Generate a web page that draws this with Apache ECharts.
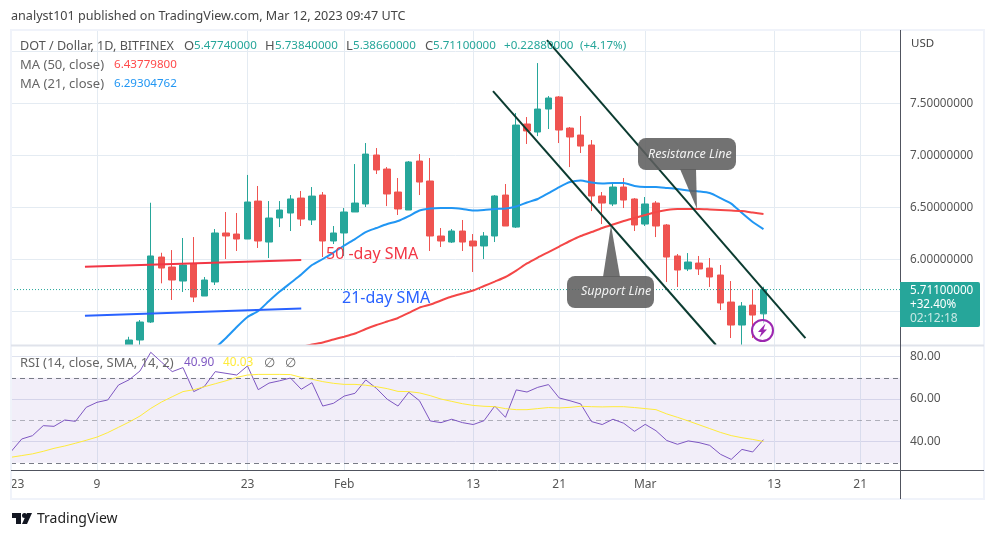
<!DOCTYPE html>
<html><head><meta charset="utf-8"><style>html,body{margin:0;padding:0;background:#fff}#c{width:996px;height:538px}</style>
<script src="https://cdn.jsdelivr.net/npm/echarts@6/dist/echarts.min.js"></script></head><body><div id="c"></div>
<script>
// x values are days counted from Jan 1 2023
const candleStartDay = 11;
const opens  = [5.178,5.226,5.399,6.024,5.928,5.793,5.957,5.649,5.784,6.255,6.245,6.197,6.562,6.168,6.399,6.447,6.591,6.38,6.62,6.178,6.255,6.457,6.534,7.005,6.87,6.649,6.476,6.947,6.755,6.226,6.168,6.274,6.178,6.13,6.226,6.62,6.312,7.303,7.226,7.447,7.563,7.264,7.197,7.101,6.611,6.534,6.697,6.582,6.341,6.543,6.332,6.034,5.909,5.966,5.918,5.851,5.591,5.37,5.562,5.4774];
const closes = [5.226,5.399,6.034,5.918,5.803,5.947,5.639,5.803,6.255,6.226,6.197,6.553,6.178,6.399,6.476,6.582,6.389,6.61,6.178,6.255,6.457,6.543,7.014,6.861,6.63,6.486,6.938,6.745,6.226,6.178,6.274,6.168,6.13,6.226,6.611,6.322,7.293,7.236,7.447,7.553,7.245,7.178,7.091,6.611,6.543,6.697,6.572,6.332,6.534,6.322,6.024,5.899,5.976,5.909,5.832,5.582,5.37,5.553,5.466,5.711];
const lows   = [5.178,5.178,5.39,5.771,5.611,5.688,5.591,5.649,5.755,6.005,6.082,6.197,6.111,6.014,6.312,6.274,6.322,6.332,6.024,6.149,6.034,6.457,6.505,6.822,6.514,6.428,6.476,6.62,6.082,6.12,6.159,6.082,5.88,6.005,6.168,6.322,6.303,7.111,7.187,7.255,7.12,6.889,7.024,6.466,6.341,6.514,6.495,6.274,6.322,6.216,5.784,5.736,5.889,5.851,5.736,5.514,5.245,5.178,5.245,5.3866];
const highs  = [5.257,5.418,6.546,6.065,6.091,6.207,6.216,5.832,6.293,6.457,6.447,6.813,6.707,6.562,6.562,6.62,6.659,6.697,6.649,6.322,6.495,6.918,7.12,7.072,6.889,6.784,6.947,7.014,6.976,6.303,6.293,6.38,6.245,6.264,6.62,6.726,7.409,7.37,7.889,7.572,7.572,7.274,7.38,7.149,6.649,6.726,6.784,6.591,6.601,6.562,6.341,6.053,6.062,6.034,6.014,5.947,5.793,5.591,5.707,5.7384];

const ma21StartDay = 19;
const ma21 = [5.149,5.245,5.351,5.447,5.505,5.601,5.692,5.774,5.856,5.947,6.005,6.067,6.135,6.197,6.264,6.303,6.341,6.37,6.418,6.471,6.49,6.495,6.495,6.486,6.471,6.476,6.486,6.49,6.51,6.548,6.582,6.639,6.697,6.745,6.76,6.74,6.731,6.736,6.736,6.707,6.697,6.697,6.688,6.678,6.663,6.654,6.639,6.591,6.538,6.447,6.361,6.293];
const ma50StartDay = 26;
const ma50 = [5.14,5.159,5.183,5.202,5.231,5.258,5.288,5.332,5.37,5.404,5.438,5.486,5.538,5.567,5.606,5.644,5.673,5.702,5.745,5.788,5.832,5.894,5.962,6.019,6.072,6.125,6.178,6.226,6.264,6.303,6.337,6.37,6.399,6.428,6.457,6.476,6.486,6.486,6.486,6.481,6.476,6.471,6.466,6.452,6.438];

const rsi = [35.24,41.2,42.77,47.48,47.16,50.14,49.5,56.1,58.46,59.55,66.6,69.1,73.2,82,77.4,72.9,74.8,63.5,66,72.9,72.1,71.3,75.6,64.4,67.5,68.6,69.9,64.6,67.7,56.7,58,61.4,62.7,69,65,59.9,56.7,63.2,59.2,49.7,48.9,50.5,48.9,48,49.8,56.7,51.4,64.3,63.3,65.5,66.8,60.5,59.2,57.7,49.4,48,50.5,48.6,44.8,48.1,45.1,40.5,38.7,40.3,39.5,38.2,34,31.6,36.3,35.1,40.9];
const rsiMa = [32.6,33.4,34.2,35.4,36.8,37.9,39.2,40.6,42.1,44.2,46.7,49.2,52,55.6,58.6,61.1,63.5,64.4,65.8,67.2,68.6,70.2,71.3,71.6,71.6,71.6,71.5,70.2,69.3,68.2,67.4,66.9,66.9,66.5,65.8,64.9,63.6,63.5,62.9,61.6,60,58.9,57.8,57,56.6,56.4,55.5,55,55,55.5,56,55.8,56.1,56.6,56.4,56.3,56.4,56.4,56,55.5,55,53,51.4,49.7,47.9,46.1,44.3,42.8,41.8,41,40.03];

const supportLine = [[44.84,7.62],[65.58,5.178]];
const resistanceLine = [[49.86,8.11],[73.9,5.245]];
const sma50Note = [[6.88,5.93],[27,5.995]];
const sma21Note = [[6.88,5.46],[27,5.53]];
const lastPriceLine = [[0,5.711],[82.7,5.711]];

const gridDays = [8,22,31,43,51,59,71,79];
const labelDays = [0.6,8,22,31,43,51,59,71,79];
const labelTexts = ['23','9','23','Feb','13','21','Mar','13','21'];
const priceTicks = [5.5,6,6.5,7,7.5,8];
const priceLabels = [6,6.5,7,7.5];
const rsiTicks = [40,60,80];

const withDays = (start, a) => a.map((v,i)=>[start+i,v]);
const FONT = '"Noto Sans"';
const GRID = '#e4ebf2';
const UP = '#26a69a', DOWN = '#ef5350';
const VAL = '11.6px '+FONT, LAB = '13px '+FONT;

const xAxisBase = {type:'value', min:0, max:82.7, axisLine:{show:false},
  axisTick:{show:false, customValues:gridDays},
  splitLine:{show:true, lineStyle:{color:GRID,width:1}}};

const txt = (x,y,text,fill,font) => ({type:'text',x,y,z:50,silent:true,
  style:{text,fill,font:font||LAB,textVerticalAlign:'middle'}});
const callout = (rx,ry,rw,rh,pts,label,lx,ly) => [
  {type:'polygon',z:40,silent:true,shape:{points:pts},style:{fill:'rgba(95,95,95,0.88)'}},
  {type:'rect',z:40,silent:true,shape:{x:rx,y:ry,width:rw,height:rh,r:8},style:{fill:'rgba(95,95,95,0.88)'}},
  {type:'text',x:lx,y:ly,z:52,silent:true,style:{text:label,fill:'#f2f2f2',font:'italic 12.5px '+FONT,textVerticalAlign:'middle'}}
];

const graphics = [
  // outer frame
  {type:'rect',z:30,silent:true,shape:{x:11,y:30,width:973,height:469},style:{fill:'none',stroke:'#f0f3fa',lineWidth:2}},
  {type:'line',z:31,silent:true,shape:{x1:11,y1:345.5,x2:984,y2:345.5},style:{stroke:'#e0e3eb',lineWidth:2}},
  {type:'line',z:32,silent:true,shape:{x1:900.5,y1:30,x2:900.5,y2:499},style:{stroke:'#50535e',lineWidth:1}},
  {type:'line',z:32,silent:true,shape:{x1:11,y1:470.5,x2:984,y2:470.5},style:{stroke:'#50535e',lineWidth:1}},
  // header and footer
  txt(11,16,'analyst101 published on TradingView.com, Mar 12, 2023 09:47 UTC','#444','12.6px '+FONT),
  txt(37,519.5,'TradingView','#222','14px '+FONT),
  {type:'polygon',z:50,silent:true,shape:{points:[[12,513],[21,513],[21,524],[16,524],[16,518],[12,518]]},style:{fill:'#131722'}},
  {type:'circle',z:50,silent:true,shape:{cx:24.5,cy:515.5,r:2.5},style:{fill:'#131722'}},
  {type:'polygon',z:50,silent:true,shape:{points:[[27,513],[32,513],[27,524],[22,524]]},style:{fill:'#131722'}},
  // legends
  txt(20,46,'DOT / Dollar, 1D, BITFINEX','#555','12.6px '+FONT),
  txt(184,46,'O','#555'), txt(194,46,'5.47740000',UP,VAL),
  txt(265,46,'H','#555'), txt(275,46,'5.73840000',UP,VAL),
  txt(346,46,'L','#555'), txt(353,46,'5.38660000',UP,VAL),
  txt(425,46,'C','#555'), txt(433,46,'5.71100000',UP,VAL),
  txt(504,46,'+0.22880000',UP,VAL), txt(580,46,'(+4.17%)',UP,VAL),
  txt(20,65,'MA (50, close)','#666'), txt(114,65,'6.43779800','#ff4a4a',VAL),
  txt(20,84,'MA (21, close)','#666'), txt(114,84,'6.29304762','#2196f3',VAL),
  txt(20,363,'RSI (14, close, SMA, 14, 2)','#666'), txt(184,363,'40.90','#7e57c2','11.8px '+FONT), txt(223,363,'40.03','#ffeb3b','11.8px '+FONT),
  txt(264,363,'∅','#666'), txt(285,363,'∅','#666'),
  txt(911,44,'USD','#444','11.5px '+FONT),
  // SMA notes
  txt(326,254,'50 -day SMA','#f23645','16px '+FONT),
  txt(342,298,'21-day SMA','#2962ff','16px '+FONT),
  // price tag
  {type:'rect',z:45,silent:true,shape:{x:900,y:282,width:80,height:45,r:[0,2,2,0]},style:{fill:UP}},
  txt(910,290.5,'5.71100000','#fff','11.7px '+FONT),
  txt(910,304.5,'+32.40%','#fff','11.7px '+FONT),
  txt(910,318.5,'02:12:18','#c9e9e5','12px '+FONT),
  // signal badge
  {type:'circle',z:46,silent:true,shape:{cx:762.5,cy:330.5,r:10.5},style:{fill:'rgba(255,255,255,0.6)',stroke:'#9c27b0',lineWidth:2}},
  {type:'polygon',z:47,silent:true,shape:{points:[[765.5,323.5],[758,332],[761.5,332],[759.5,337.5],[767,329.5],[763.5,329.5]]},style:{fill:'#9c27b0'}}
].concat(
  callout(638,138,98,32,[[680,169],[697,209],[696,169]],'Resistance Line',648,154.5),
  callout(567,276,87,32,[[603,277],[611,225],[620,277]],'Support Line',581,291)
);

const noteLine = (data,color,width) => ({type:'line',xAxisIndex:0,yAxisIndex:0,data,symbol:'none',silent:true,z:6,
  lineStyle:{color,width},animation:false});

const option = {
  animation:false, backgroundColor:'#fff',
  textStyle:{fontFamily:FONT},
  grid:[
    {left:11,right:96,top:30,height:315,containLabel:false},
    {left:11,right:96,top:346,height:124,containLabel:false}
  ],
  xAxis:[
    Object.assign({},xAxisBase,{gridIndex:0,axisLabel:{show:false}}),
    Object.assign({},xAxisBase,{gridIndex:1,axisLabel:{show:true,customValues:labelDays,color:'#555',fontSize:12,fontFamily:FONT,margin:9,hideOverlap:false,
      formatter:v=>{const i=labelDays.indexOf(v);return i<0?'':labelTexts[i];}}})
  ],
  yAxis:[
    {type:'value',gridIndex:0,position:'right',min:5.178,max:8.207,axisLine:{show:false},
     axisTick:{show:false,customValues:priceTicks},splitLine:{show:true,lineStyle:{color:GRID}},
     axisLabel:{customValues:priceLabels,color:'#555',fontSize:11.7,fontFamily:FONT,margin:10,formatter:v=>v.toFixed(8)}},
    {type:'value',gridIndex:1,position:'right',min:26.61,max:84.96,axisLine:{show:false},
     axisTick:{show:false,customValues:rsiTicks},splitLine:{show:true,lineStyle:{color:'#dfe3ef'}},
     axisLabel:{customValues:rsiTicks,color:'#555',fontSize:12,fontFamily:FONT,margin:10,formatter:v=>v.toFixed(2)}}
  ],
  series:[
    {type:'candlestick',xAxisIndex:0,yAxisIndex:0,encode:{x:0,y:[1,2,3,4]},barWidth:7,z:4,silent:true,
     data:opens.map((o,i)=>[candleStartDay+i,o,closes[i],lows[i],highs[i]]),
     itemStyle:{color:UP,color0:DOWN,borderColor:UP,borderColor0:DOWN,borderWidth:1}},
    {type:'line',name:'Last price',xAxisIndex:0,yAxisIndex:0,data:lastPriceLine,symbol:'none',silent:true,z:5,
     lineStyle:{color:UP,type:[1,2],width:1}},
    {type:'line',name:'MA 21',xAxisIndex:0,yAxisIndex:0,data:withDays(ma21StartDay,ma21),symbol:'none',silent:true,z:5,smooth:0.2,lineStyle:{color:'#2196f3',width:2}},
    {type:'line',name:'MA 50',xAxisIndex:0,yAxisIndex:0,data:withDays(ma50StartDay,ma50),symbol:'none',silent:true,z:5,smooth:0.2,lineStyle:{color:'#f44747',width:2}},
    noteLine(sma50Note,'#f23645',2),
    noteLine(sma21Note,'#2962ff',2),
    noteLine(supportLine,'#0b3b30',2),
    noteLine(resistanceLine,'#0b3b30',2),
    {type:'line',name:'RSI',xAxisIndex:1,yAxisIndex:1,data:withDays(0,rsi),symbol:'none',silent:true,z:5,lineStyle:{color:'#7e57c2',width:1},
     markArea:{silent:true,itemStyle:{color:'rgba(126,87,194,0.1)'},data:[[{yAxis:70},{yAxis:30}]]},
     markLine:{silent:true,symbol:'none',label:{show:false},data:[
       {yAxis:70,lineStyle:{color:'#787b86',type:[5,4],width:1}},
       {yAxis:50,lineStyle:{color:'rgba(120,123,134,0.55)',type:[5,4],width:1}},
       {yAxis:30,lineStyle:{color:'#787b86',type:[5,4],width:1}}]}},
    {type:'line',name:'RSI MA',xAxisIndex:1,yAxisIndex:1,data:withDays(0,rsiMa),symbol:'none',silent:true,z:5,lineStyle:{color:'#ffeb3b',width:1}}
  ],
  graphic:{elements:graphics}
};
const chart = echarts.init(document.getElementById('c'),null,{renderer:'canvas'});
chart.setOption(option);
</script></body></html>
